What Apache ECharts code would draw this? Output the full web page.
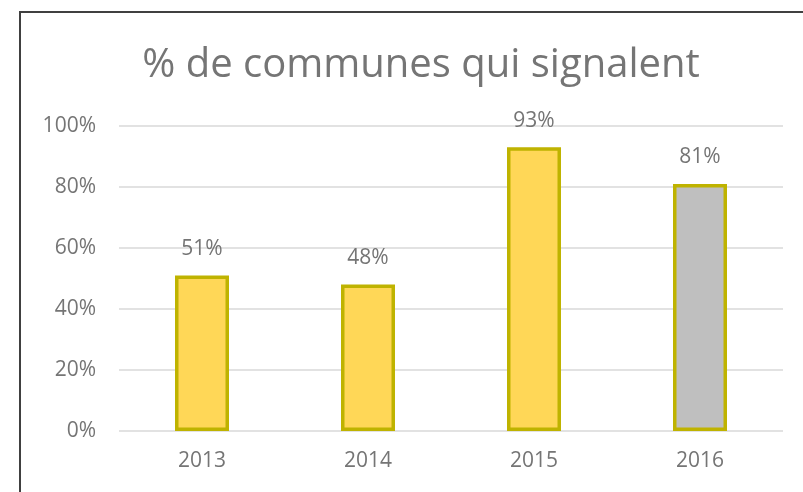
<!DOCTYPE html>
<html>
<head>
<meta charset="utf-8">
<script src="https://cdn.jsdelivr.net/npm/echarts@6/dist/echarts.min.js"></script>
<style>
  html, body { margin: 0; padding: 0; background: #fff; overflow: hidden; }
  #frame {
    position: absolute; left: 19px; top: 11px;
    width: 820px; height: 520px;
    border: 2px solid #404040; box-sizing: border-box;
  }
  #chart { position: absolute; left: 0; top: 0; width: 803px; height: 492px; }
</style>
</head>
<body>
<div id="frame"></div>
<div id="chart"></div>
<script>
const years = ['2013', '2014', '2015', '2016']
const shares = [51, 48, 93, 81]
const fills = ['#FFD757', '#FFD757', '#FFD757', '#BFBFBF']
const yTicks = [0, 20, 40, 60, 80, 100]

const chart = echarts.init(document.getElementById('chart'))

chart.setOption({
  animation: false,
  title: {
    text: '% de communes qui signalent',
    left: 416,
    textAlign: 'center',
    top: 41,
    textStyle: {
      fontFamily: 'Open Sans',
      fontWeight: 'normal',
      fontSize: 40,
      color: '#757575'
    }
  },
  grid: { left: 119, right: 20, top: 126, bottom: 61 },
  xAxis: {
    type: 'category',
    data: years,
    axisLine: { show: false },
    axisTick: { show: false },
    axisLabel: { color: '#757575', fontSize: 21, fontFamily: 'Open Sans', margin: 20 }
  },
  yAxis: {
    type: 'value',
    min: yTicks[0],
    max: yTicks[yTicks.length - 1],
    interval: 20,
    axisLine: { show: false },
    axisTick: { show: false },
    splitLine: { lineStyle: { color: '#D9D9D9', width: 1.5 } },
    axisLabel: {
      color: '#757575', fontSize: 21, fontFamily: 'Open Sans', margin: 23,
      formatter: v => v + '%'
    }
  },
  series: [{
    type: 'bar',
    barWidth: 54,
    data: shares.map((v, i) => ({
      value: v,
      itemStyle: { color: fills[i] }
    })),
    itemStyle: { borderColor: '#BFB300', borderWidth: 3.5 },
    label: {
      show: true,
      position: 'top',
      distance: 16,
      color: '#757575',
      fontSize: 21,
      fontFamily: 'Open Sans',
      formatter: p => p.value + '%'
    }
  }]
})
</script>
</body>
</html>
